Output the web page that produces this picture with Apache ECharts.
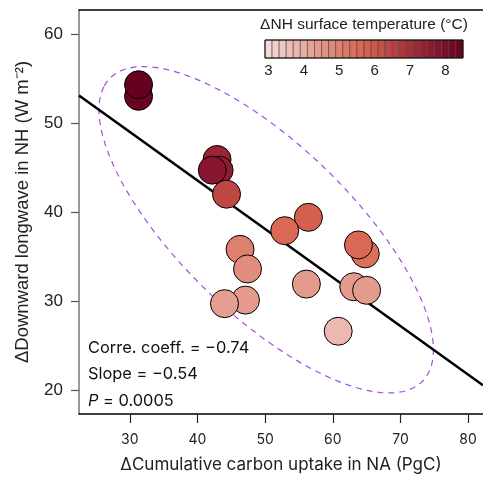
<!DOCTYPE html>
<html><head><meta charset="utf-8">
<script src="https://cdn.jsdelivr.net/npm/echarts@6/dist/echarts.min.js"></script>
<style>html,body{margin:0;padding:0;background:#fff}#c{width:483px;height:478px}</style>
</head><body><div id="c"></div>
<script>
// ---- data ----
const carbonUptake = [31.3, 31.3, 42.9, 43.2, 42.2, 44.3, 56.4, 52.9, 64.8, 63.8, 46.3, 47.4, 56.1, 63.1, 65.0, 47.1, 44.0, 60.8];
const downwardLW   = [53.0, 54.3, 45.9, 44.7, 44.7, 42.0, 39.4, 37.9, 35.3, 36.3, 35.8, 33.6, 31.9, 31.6, 31.2, 30.1, 29.7, 26.6];
const surfaceTemp  = [8.4, 8.5, 7.3, 7.5, 7.7, 6.4, 5.8, 5.6, 5.4, 5.6, 5.0, 4.7, 4.4, 4.4, 4.4, 4.4, 4.3, 3.7];
const xTicks = [30, 40, 50, 60, 70, 80];
const yTicks = [20, 30, 40, 50, 60];
const cbTicks = [3, 4, 5, 6, 7, 8];
const cbRange = [2.9, 8.5];
const cbColors = ['#f5dedb', '#eab3ab', '#e08a79', '#d8644f', '#b73d3f', '#8c1a30', '#67001f'];
const statLabels = ['Corre. coeff. = \u22120.74', 'Slope = \u22120.54', '{i|P} = 0.0005'];
const xName = '\u0394Cumulative carbon uptake in NA (PgC)';
const yName = '\u0394Downward longwave in NH (W m\u207B\u00B2)';
const cbTitle = '\u0394NH surface temperature (\u00B0C)';

// ---- derived statistics ----
const n = carbonUptake.length;
const mx = carbonUptake.reduce((a, b) => a + b, 0) / n;
const my = downwardLW.reduce((a, b) => a + b, 0) / n;
let sxx = 0, syy = 0, sxy = 0;
for (let i = 0; i < n; i++) {
  const dx = carbonUptake[i] - mx, dy = downwardLW[i] - my;
  sxx += dx * dx; syy += dy * dy; sxy += dx * dy;
}
const vx = sxx / (n - 1), vy = syy / (n - 1), cxy = sxy / (n - 1);
const slope = sxy / sxx, intercept = my - slope * mx;
const X_MIN = 22.5, X_MAX = 82.2, Y_MIN = 17.3, Y_MAX = 62.7;
const regLine = [[X_MIN, intercept + slope * X_MIN], [X_MAX, intercept + slope * X_MAX]];

// confidence ellipse from covariance
const tr = vx + vy, det = vx * vy - cxy * cxy;
const disc = Math.sqrt(tr * tr / 4 - det);
const l1 = tr / 2 + disc, l2 = tr / 2 - disc;
let ex = cxy, ey = l1 - vx; const en = Math.hypot(ex, ey); ex /= en; ey /= en;
const K = 2.3;
const ellipse = [];
for (let a = 0; a <= 360; a += 3) {
  const t = a * Math.PI / 180;
  const u = K * Math.sqrt(l1) * Math.cos(t), v = K * Math.sqrt(l2) * Math.sin(t);
  ellipse.push([mx + u * ex - v * ey, my + u * ey + v * ex]);
}

const points = carbonUptake.map((x, i) => [x, downwardLW[i], surfaceTemp[i]]);

// ---- colorbar graphics ----
const cbX0 = 265, cbX1 = 463, cbY = 40, cbH = 18, cbCells = 28;
const cbW = (cbX1 - cbX0) / cbCells;
const graphics = [];
for (let i = 0; i < cbCells; i++) {
  const f = (i + 0.5) / cbCells;
  graphics.push({ type: 'rect', z: 100, shape: { x: cbX0 + i * cbW, y: cbY, width: cbW, height: cbH },
    style: { fill: echarts.color.lerp(f, cbColors), stroke: '#444', lineWidth: 0.6 } });
}
graphics.push({ type: 'rect', z: 101, shape: { x: cbX0, y: cbY, width: cbX1 - cbX0, height: cbH },
  style: { fill: 'none', stroke: '#000', lineWidth: 1 } });
cbTicks.forEach(v => {
  graphics.push({ type: 'text', z: 101, x: cbX0 + (v - cbRange[0]) / (cbRange[1] - cbRange[0]) * (cbX1 - cbX0), y: 71,
    style: { text: String(v), font: '15px "Liberation Sans"', fill: '#222', align: 'center', verticalAlign: 'middle' } });
});
graphics.push({ type: 'text', z: 101, x: (cbX0 + cbX1) / 2, y: 25,
  style: { text: cbTitle, font: '15.5px "Liberation Sans"', fill: '#222', align: 'center', verticalAlign: 'middle' } });
statLabels.forEach((s, i) => {
  graphics.push({ type: 'text', z: 101, x: 88, y: [348, 374, 401][i],
    style: { text: s, font: '16.4px Inter', fill: '#111', verticalAlign: 'middle',
      rich: { i: { fontStyle: 'italic', font: 'italic 16.4px Inter', fill: '#111' } } } });
});

const chart = echarts.init(document.getElementById('c'), null, { renderer: 'canvas' });
chart.setOption({
  animation: false,
  backgroundColor: '#fff',
  grid: { left: 79, right: 0, top: 10, bottom: 60 },
  xAxis: [{
    type: 'value', min: X_MIN, max: X_MAX,
    axisLine: { onZero: false, lineStyle: { color: '#000', width: 1.5 } },
    axisTick: { customValues: xTicks, length: 9, lineStyle: { color: '#222', width: 1.2 } },
    axisLabel: { customValues: xTicks, margin: 19, fontFamily: 'Inter', fontSize: 14, color: '#222' },
    splitLine: { show: false },
    name: xName, nameLocation: 'middle', nameGap: 42,
    nameTextStyle: { fontFamily: 'Inter', fontSize: 17, color: '#222' }
  }, {
    type: 'value', min: X_MIN, max: X_MAX, position: 'top',
    axisLine: { onZero: false, lineStyle: { color: '#000', width: 1.5 } },
    axisTick: { show: false }, axisLabel: { show: false }, splitLine: { show: false }
  }],
  yAxis: {
    type: 'value', min: Y_MIN, max: Y_MAX,
    axisLine: { onZero: false, lineStyle: { color: '#777', width: 1.5 } },
    axisTick: { customValues: yTicks, length: 8, lineStyle: { color: '#555', width: 1.2 } },
    axisLabel: { customValues: yTicks, margin: 16, fontFamily: 'Liberation Sans', fontSize: 17, color: '#222' },
    splitLine: { show: false },
    name: yName, nameLocation: 'middle', nameGap: 47, nameRotate: 90,
    nameTextStyle: { fontFamily: 'Liberation Sans', fontSize: 18.5, color: '#222' }
  },
  visualMap: {
    show: false, type: 'continuous', seriesIndex: 2, dimension: 2,
    min: cbRange[0], max: cbRange[1], inRange: { color: cbColors }
  },
  graphic: graphics,
  series: [
    { type: 'line', data: ellipse, showSymbol: false, silent: true, z: 1,
      lineStyle: { color: '#a64be6', width: 1.2, type: [6, 5] } },
    { type: 'line', data: regLine, showSymbol: false, silent: true, z: 2,
      lineStyle: { color: '#000', width: 2.6 } },
    { type: 'scatter', data: points, symbolSize: 28, z: 3,
      itemStyle: { borderColor: '#000', borderWidth: 1, opacity: 1 } }
  ]
});
</script></body></html>
